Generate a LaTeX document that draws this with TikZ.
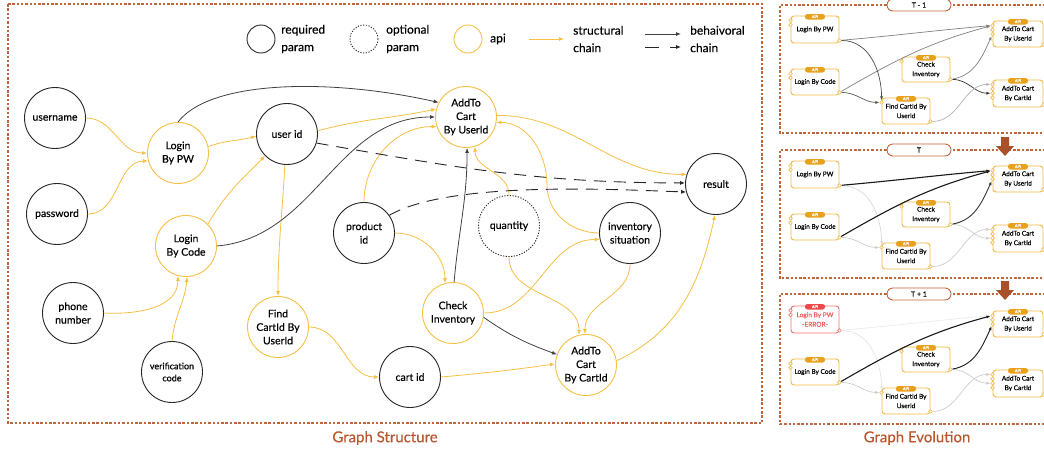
\documentclass[tikz,border=0pt]{standalone}
\usepackage{fontspec}
\setmainfont{Lato}[UprightFeatures={FakeBold=0.3}]
\usetikzlibrary{arrows.meta}
\definecolor{ylw}{HTML}{F6BF45}
\definecolor{brn}{HTML}{C0663C}
\definecolor{gold}{HTML}{F2B942}
\definecolor{apif}{HTML}{E8A11B}
\definecolor{darr}{HTML}{A9502B}
\definecolor{errc}{HTML}{F05A5A}
\definecolor{errb}{HTML}{F27070}
\definecolor{errp}{HTML}{EE4848}
\definecolor{lbl}{HTML}{B8562E}
\newcommand\ApiBox[8]{%
  \node[abox#7,minimum width=#4pt,minimum height=#5pt] (#1) at (#2,#3) {#6};
  \node[apill#7] (#1p) at ([yshift=-1.2pt]#1.north) {API};
  \node[port#7] (#1o) at ([yshift=3pt]#1.south east) {};
  \foreach \k in {1,...,#8}{\node[port#7] (#1i\k) at ([yshift={-(0.5pt+4.4pt*\k)}]#1.north west) {};}
}
\newcommand\PanelBoxes[2]{%
  \ApiBox{lcode#1}{815}{-82-#2}{48}{26}{Login By Code}{n}{2}
  \ApiBox{fcb#1}{906}{-111-#2}{48}{26}{Find CartId By\\UserId}{n}{1}
  \ApiBox{chk#1}{926}{-69.5-#2}{48}{25}{Check\\Inventory}{n}{1}
  \ApiBox{aub#1}{1018}{-34-#2}{50}{26}{AddTo Cart\\By UserId}{n}{3}
  \ApiBox{acb#1}{1018}{-93.5-#2}{50}{27}{AddTo Cart\\By CartId}{n}{4}
}
\begin{document}
\begin{tikzpicture}[x=1pt,y=1pt,
  par/.style={circle,draw=black!85,line width=0.9pt,minimum size=61pt,inner sep=0pt,align=center,font=\fontsize{10.5}{13.5}\selectfont},
  opar/.style={par,dash pattern=on 1.2pt off 1.5pt},
  apin/.style={par,draw=ylw},
  st/.style={ylw,line width=0.8pt,-{Latex[length=5pt,width=4pt]}},
  bh/.style={black!75,line width=0.8pt,-{Latex[length=5pt,width=4pt]}},
  dsh/.style={black!85,line width=0.9pt,dash pattern=on 12pt off 8pt,-{Latex[length=5pt,width=4pt]}},
  frame/.style={brn,line width=1.1pt,dash pattern=on 2.5pt off 1.8pt},
  lgt/.style={anchor=west,align=left,inner sep=0pt,font=\fontsize{12}{17.5}\selectfont},
  glabel/.style={text=lbl,font=\fontsize{15}{18}\selectfont},
  aboxn/.style={rectangle,rounded corners=3pt,draw=gold,line width=0.9pt,fill=white,align=center,inner sep=0pt,font=\fontsize{6.5}{9.5}\selectfont},
  aboxe/.style={aboxn,draw=errb,text=errc},
  apilln/.style={rectangle,rounded corners=2.5pt,fill=apif,text=white,minimum width=20pt,minimum height=5.5pt,inner sep=0pt,font=\fontsize{4}{4}\selectfont},
  apille/.style={apilln,fill=errp},
  portn/.style={circle,draw=gold,fill=white,line width=0.6pt,minimum size=3.6pt,inner sep=0pt},
  porte/.style={portn,draw=errb},
  pe/.style={line width=0.7pt,-{Latex[length=4pt,width=3pt]}},
  tpill/.style={rectangle,rounded corners=6pt,draw=brn,fill=white,line width=0.9pt,minimum width=64pt,minimum height=12pt,inner sep=0pt,font=\fontsize{7}{8}\selectfont},
]
\useasboundingbox (0,0) rectangle (1044,-450);

% ---------- main frame ----------
\draw[frame] (8,-4) rectangle (762,-423);
\node[glabel] (gs) at (385,-438) {Graph Structure};

% ---------- legend ----------
\node[par,minimum size=28pt] (lgreq) at (261,-39) {};
\node[lgt] (lgreqt) at (281,-39) {required\\param};
\node[opar,minimum size=28pt] (lgopt) at (364,-39) {};
\node[lgt] (lgoptt) at (386,-39) {optional\\param};
\node[apin,minimum size=28pt] (lgapi) at (468,-39) {};
\node[lgt] (lgapit) at (490,-39) {api};
\coordinate (ls1) at (529,-39); \coordinate (ls2) at (564,-39);
\draw[st] (ls1) -- (ls2);
\node[lgt] (lgstt) at (573,-39) {structural\\chain};
\coordinate (lb1) at (645,-34); \coordinate (lb2) at (681,-34);
\draw[bh] (lb1) -- (lb2);
\coordinate (ld1) at (645,-47); \coordinate (ld2) at (659,-47);
\coordinate (ld3) at (670,-47); \coordinate (ld4) at (681,-47);
\draw[black!85,line width=0.9pt] (ld1) -- (ld2);
\draw[bh,black!85] (ld3) -- (ld4);
\node[lgt] (lgbht) at (690,-39) {behaivoral\\chain};

% ---------- main nodes ----------
\node[par] (user) at (55,-118) {username};
\node[par] (pass) at (57,-214) {password};
\node[apin] (lpw) at (178,-153) {Login\\By PW};
\node[par] (uid) at (287,-134) {user id};
\node[apin] (lcode) at (186,-246) {Login\\By Code};
\node[par] (phone) at (73,-313) {phone\\number};
\node[par,font=\fontsize{9}{12}\selectfont] (vcode) at (172,-372) {verification\\code};
\node[par] (pid) at (364,-233) {product\\id};
\node[apin] (aub) at (466,-117) {AddTo\\Cart\\By UserId};
\node[opar] (qty) at (509,-226) {quantity};
\node[par] (inv) at (630,-233) {inventory\\situation};
\node[par] (res) at (716,-184) {result};
\node[apin] (chk) at (453,-313) {Check\\Inventory};
\node[apin] (acb) at (586,-365) {AddTo\\Cart\\By CartId};
\node[par] (cid) at (410,-377) {cart id};
\node[apin] (fcb) at (278,-327) {Find\\CartId By\\UserId};

% ---------- structural chain ----------
\draw[st] (user.east) to[out=0,in=180] (lpw.180);
\draw[st] (pass.east) to[out=0,in=180] (lpw.195);
\draw[st] (lpw.12) to[out=20,in=195] (uid.184);
\draw[st] (lcode.45) to[out=60,in=-135] (uid.225);
\draw[st] (phone.east) to[out=-3,in=-90] (lcode.255);
\draw[st] (vcode.north) to[out=85,in=-95] (lcode.272);
\draw[st] (uid.6) to[out=15,in=192] (aub.165);
\draw[st] (pid.north) to[out=90,in=180] (aub.198);
\draw[st] (uid.266) to[out=-93,in=90] (fcb.north);
\draw[st] (fcb.east) to[out=0,in=180] (cid.west);
\draw[st] (cid.east) to[out=5,in=188] (acb.178);
\draw[st] (pid.east) to[out=0,in=90] (chk.105);
\draw[st] (qty.north) to[out=90,in=-90] (aub.-73);
\draw[st] (qty.south) to[out=-90,in=90] (acb.103);
\draw[st] (inv.south) to[out=-90,in=90] (acb.92);
\draw[st] (chk.east) to[out=0,in=180] (inv.192);
\coordinate (invbend) at (547,-185);
\draw[st] (inv.180) to[out=180,in=-90] (invbend) to[out=90,in=0] (aub.-10);
\draw[st] (aub.3) to[out=0,in=180] (res.162);
\draw[st] (acb.8) to[out=25,in=-102] (res.-92);

% ---------- behavioral chain ----------
\draw[bh] (lpw.north) .. controls (210,-80) and (330,-78) .. (aub.152);
\draw[bh] (lcode.east) to[out=5,in=180] (aub.180);
\draw[bh] (chk.88) to[out=85,in=-90] (aub.-88);
\draw[bh] (chk.-8) to[out=-35,in=160] (acb.160);
\draw[dsh] (uid.-17) to[out=-10,in=180] (res.178);
\draw[dsh] (pid.35) to[out=30,in=178,looseness=0.6] (res.195);

% ---------- evolution panels ----------
\draw[frame] (1050,-5) -- (780,-5) -- (780,-133) -- (1050,-133);
\draw[frame] (1050,-150) -- (780,-150) -- (780,-278) -- (1050,-278);
\draw[frame] (1050,-294) -- (780,-294) -- (780,-424) -- (1050,-424);
\node[tpill] (t1) at (919,-5) {T - 1};
\node[tpill] (t2) at (919,-150) {T};
\node[tpill] (t3) at (919,-294) {T + 1};
\fill[darr] (1001,-137) -- (1009,-137) -- (1009,-146) -- (1014,-146) -- (1005,-156) -- (996,-146) -- (1001,-146) -- cycle;
\fill[darr] (1001,-281) -- (1009,-281) -- (1009,-290) -- (1014,-290) -- (1005,-300) -- (996,-290) -- (1001,-290) -- cycle;
\node[glabel] (ge) at (917,-438) {Graph Evolution};

% panel T-1
\ApiBox{lpwa}{815}{-29.5}{48}{27}{Login By PW}{n}{2}
\PanelBoxes{a}{0}
\draw[pe,draw=black!50] (lpwao) to[out=5,in=185] (aubai1);
\draw[pe,draw=black!50] (lcodeao) to[out=30,in=195] (aubai1);
\draw[pe,draw=black!70] (lpwao) to[out=0,in=90] (fcbai1);
\draw[pe,draw=black!65] (lcodeao) to[out=0,in=180] (fcbai1);
\draw[pe,draw=black!50] (chkao) to[out=10,in=-115] (aubai3);
\draw[pe,draw=black!80] (chkao) to[out=0,in=180] (acbai3);
\draw[pe,draw=black!30] (fcbao) to[out=0,in=180] (acbai1);

% panel T
\ApiBox{lpwb}{815}{-174.5}{48}{27}{Login By PW}{n}{2}
\PanelBoxes{b}{145}
\draw[pe,draw=black!15] (lpwbo) to[out=0,in=90] (fcbbi1);
\draw[pe,draw=black!20] (lcodebo) to[out=0,in=180] (fcbbi1);
\draw[pe,draw=black!20] (chkbo) to[out=0,in=180] (acbbi3);
\draw[pe,draw=black!20] (fcbbo) to[out=0,in=180] (acbbi1);
\draw[pe,draw=black!90,line width=1.1pt] (lpwbo) to[out=5,in=185] (aubbi1);
\draw[pe,draw=black!90,line width=1.1pt] (lcodebo) to[out=30,in=195] (aubbi1);
\draw[pe,draw=black!80,line width=0.9pt] (chkbo) to[out=10,in=-115] (aubbi3);

% panel T+1
\ApiBox{lpwc}{815}{-319.5}{48}{27}{Login By PW\\-ERROR-}{e}{2}
\PanelBoxes{c}{290}
\draw[pe,draw=black!8] (lpwco) to[out=5,in=185] (aubci1);
\draw[pe,draw=black!10] (lpwco) to[out=0,in=90] (fcbci1);
\draw[pe,draw=black!20] (lcodeco) to[out=0,in=180] (fcbci1);
\draw[pe,draw=black!20] (chkco) to[out=0,in=180] (acbci3);
\draw[pe,draw=black!20] (fcbco) to[out=0,in=180] (acbci1);
\draw[pe,draw=black!90,line width=1.1pt] (lcodeco) to[out=30,in=195] (aubci1);
\draw[pe,draw=black!90,line width=0.9pt] (chkco) to[out=10,in=-115] (aubci3);
\end{tikzpicture}
\end{document}
